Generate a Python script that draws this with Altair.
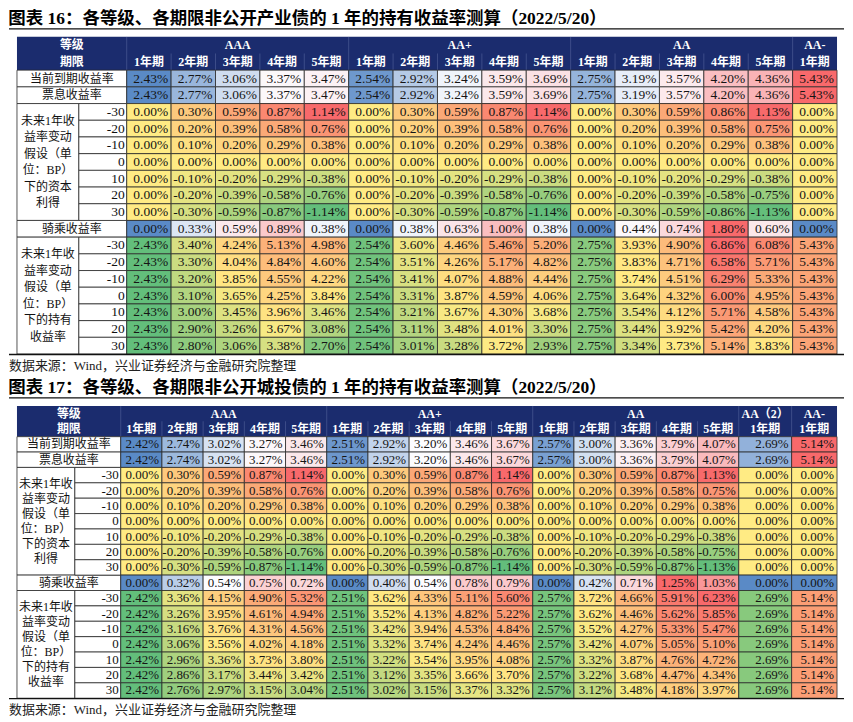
import altair as alt
import numpy as np
import pandas as pd

# ---------------- data ----------------
SHIFTS = ["-30", "-20", "-10", "0", "10", "20", "30"]
TERMS5 = ["1年期", "2年期", "3年期", "4年期", "5年期"]

# 图表16 产业债
F16_TITLE = "图表 16：各等级、各期限非公开产业债的 1 年的持有收益率测算（2022/5/20）"
F16_GRADES = ["AAA", "AA+", "AA", "AA-"]
F16_SPANS = [5, 5, 5, 1]
F16_TERMS = TERMS5 * 3 + ["1年期"]
F16_YTM = [2.43, 2.77, 3.06, 3.37, 3.47, 2.54, 2.92, 3.24, 3.59, 3.69, 2.75, 3.19, 3.57, 4.20, 4.36, 5.43]
F16_COUPON = [2.43, 2.77, 3.06, 3.37, 3.47, 2.54, 2.92, 3.24, 3.59, 3.69, 2.75, 3.19, 3.57, 4.20, 4.36, 5.43]
F16_CAPITAL = [
    [0.00, 0.30, 0.59, 0.87, 1.14, 0.00, 0.30, 0.59, 0.87, 1.14, 0.00, 0.30, 0.59, 0.86, 1.13, 0.00],
    [0.00, 0.20, 0.39, 0.58, 0.76, 0.00, 0.20, 0.39, 0.58, 0.76, 0.00, 0.20, 0.39, 0.58, 0.75, 0.00],
    [0.00, 0.10, 0.20, 0.29, 0.38, 0.00, 0.10, 0.20, 0.29, 0.38, 0.00, 0.10, 0.20, 0.29, 0.38, 0.00],
    [0.00, 0.00, 0.00, 0.00, 0.00, 0.00, 0.00, 0.00, 0.00, 0.00, 0.00, 0.00, 0.00, 0.00, 0.00, 0.00],
    [0.00, -0.10, -0.20, -0.29, -0.38, 0.00, -0.10, -0.20, -0.29, -0.38, 0.00, -0.10, -0.20, -0.29, -0.38, 0.00],
    [0.00, -0.20, -0.39, -0.58, -0.76, 0.00, -0.20, -0.39, -0.58, -0.76, 0.00, -0.20, -0.39, -0.58, -0.75, 0.00],
    [0.00, -0.30, -0.59, -0.87, -1.14, 0.00, -0.30, -0.59, -0.87, -1.14, 0.00, -0.30, -0.59, -0.86, -1.13, 0.00],
]
F16_ROLL = [0.00, 0.33, 0.59, 0.89, 0.38, 0.00, 0.38, 0.63, 1.00, 0.38, 0.00, 0.44, 0.74, 1.80, 0.60, 0.00]
F16_HOLD = [
    [2.43, 3.40, 4.24, 5.13, 4.98, 2.54, 3.60, 4.46, 5.46, 5.20, 2.75, 3.93, 4.90, 6.86, 6.08, 5.43],
    [2.43, 3.30, 4.04, 4.84, 4.60, 2.54, 3.51, 4.26, 5.17, 4.82, 2.75, 3.83, 4.71, 6.58, 5.71, 5.43],
    [2.43, 3.20, 3.85, 4.55, 4.22, 2.54, 3.41, 4.07, 4.88, 4.44, 2.75, 3.74, 4.51, 6.29, 5.33, 5.43],
    [2.43, 3.10, 3.65, 4.25, 3.84, 2.54, 3.31, 3.87, 4.59, 4.06, 2.75, 3.64, 4.32, 6.00, 4.95, 5.43],
    [2.43, 3.00, 3.45, 3.96, 3.46, 2.54, 3.21, 3.67, 4.30, 3.68, 2.75, 3.54, 4.12, 5.71, 4.58, 5.43],
    [2.43, 2.90, 3.26, 3.67, 3.08, 2.54, 3.11, 3.48, 4.01, 3.30, 2.75, 3.44, 3.92, 5.42, 4.20, 5.43],
    [2.43, 2.80, 3.06, 3.38, 2.70, 2.54, 3.01, 3.28, 3.72, 2.93, 2.75, 3.34, 3.73, 5.14, 3.83, 5.43],
]

# 图表17 城投债
F17_TITLE = "图表 17：各等级、各期限非公开城投债的 1 年的持有收益率测算（2022/5/20）"
F17_GRADES = ["AAA", "AA+", "AA", "AA（2）", "AA-"]
F17_SPANS = [5, 5, 5, 1, 1]
F17_TERMS = TERMS5 * 3 + ["1年期", "1年期"]
F17_YTM = [2.42, 2.74, 3.02, 3.27, 3.46, 2.51, 2.92, 3.20, 3.46, 3.67, 2.57, 3.00, 3.36, 3.79, 4.07, 2.69, 5.14]
F17_COUPON = [2.42, 2.74, 3.02, 3.27, 3.46, 2.51, 2.92, 3.20, 3.46, 3.67, 2.57, 3.00, 3.36, 3.79, 4.07, 2.69, 5.14]
F17_CAPITAL = [
    [0.00, 0.30, 0.59, 0.87, 1.14, 0.00, 0.30, 0.59, 0.87, 1.14, 0.00, 0.30, 0.59, 0.87, 1.13, 0.00, 0.00],
    [0.00, 0.20, 0.39, 0.58, 0.76, 0.00, 0.20, 0.39, 0.58, 0.76, 0.00, 0.20, 0.39, 0.58, 0.75, 0.00, 0.00],
    [0.00, 0.10, 0.20, 0.29, 0.38, 0.00, 0.10, 0.20, 0.29, 0.38, 0.00, 0.10, 0.20, 0.29, 0.38, 0.00, 0.00],
    [0.00, 0.00, 0.00, 0.00, 0.00, 0.00, 0.00, 0.00, 0.00, 0.00, 0.00, 0.00, 0.00, 0.00, 0.00, 0.00, 0.00],
    [0.00, -0.10, -0.20, -0.29, -0.38, 0.00, -0.10, -0.20, -0.29, -0.38, 0.00, -0.10, -0.20, -0.29, -0.38, 0.00, 0.00],
    [0.00, -0.20, -0.39, -0.58, -0.76, 0.00, -0.20, -0.39, -0.58, -0.76, 0.00, -0.20, -0.39, -0.58, -0.75, 0.00, 0.00],
    [0.00, -0.30, -0.59, -0.87, -1.14, 0.00, -0.30, -0.59, -0.87, -1.14, 0.00, -0.30, -0.59, -0.87, -1.13, 0.00, 0.00],
]
F17_ROLL = [0.00, 0.32, 0.54, 0.75, 0.72, 0.00, 0.40, 0.54, 0.78, 0.79, 0.00, 0.42, 0.71, 1.25, 1.03, 0.00, 0.00]
F17_HOLD = [
    [2.42, 3.36, 4.15, 4.90, 5.32, 2.51, 3.62, 4.33, 5.11, 5.60, 2.57, 3.72, 4.66, 5.91, 6.23, 2.69, 5.14],
    [2.42, 3.26, 3.95, 4.61, 4.94, 2.51, 3.52, 4.13, 4.82, 5.22, 2.57, 3.62, 4.46, 5.62, 5.85, 2.69, 5.14],
    [2.42, 3.16, 3.76, 4.31, 4.56, 2.51, 3.42, 3.94, 4.53, 4.84, 2.57, 3.52, 4.27, 5.33, 5.47, 2.69, 5.14],
    [2.42, 3.06, 3.56, 4.02, 4.18, 2.51, 3.32, 3.74, 4.24, 4.46, 2.57, 3.42, 4.07, 5.05, 5.10, 2.69, 5.14],
    [2.42, 2.96, 3.36, 3.73, 3.80, 2.51, 3.22, 3.54, 3.95, 4.08, 2.57, 3.32, 3.87, 4.76, 4.72, 2.69, 5.14],
    [2.42, 2.86, 3.17, 3.44, 3.42, 2.51, 3.12, 3.35, 3.66, 3.70, 2.57, 3.22, 3.68, 4.47, 4.34, 2.69, 5.14],
    [2.42, 2.76, 2.97, 3.15, 3.04, 2.51, 3.02, 3.15, 3.37, 3.32, 2.57, 3.12, 3.48, 4.18, 3.97, 2.69, 5.14],
]

SOURCE = "数据来源：Wind，兴业证券经济与金融研究院整理"
LBL_HEAD = ["等级", "期限"]
LBL_YTM = "当前到期收益率"
LBL_COUPON = "票息收益率"
LBL_ROLL = "骑乘收益率"
LBL_CAP = ["未来1年收", "益率变动", "假设（单", "位：BP）", "下的资本", "利得"]
LBL_HOLD = ["未来1年收", "益率变动", "假设（单", "位：BP）", "下的持有", "收益率"]

# ---------------- styling ----------------
NAVY = "#1b2c6e"
BORDER = "#2a2a2a"
SERIF = "Liberation Serif"
MIXED = "Liberation Serif, Noto Sans CJK SC"
GYR = ["#63BE7B", "#FFEB84", "#F8696B"]
BWR = ["#5A8AC6", "#FCFCFF", "#F8696B"]


def table_chart(title, grades, spans, terms, ytm, coupon, capital, roll, hold,
                widths, H, fs, lh):
    edges = np.concatenate([[0.0], np.cumsum(widths)])
    W = float(edges[-1])
    L1 = float(edges[1])
    L = float(edges[2])
    NR = 19
    row_h = H / NR
    xsc = alt.Scale(domain=[0, W], nice=False, zero=False)
    ysc = alt.Scale(domain=[0, NR], nice=False, zero=False, reverse=True)

    def rect_enc():
        return dict(x=alt.X("x0:Q", scale=xsc, axis=None), x2="x1:Q",
                    y=alt.Y("y0:Q", scale=ysc, axis=None), y2="y1:Q")

    # data cells
    rows = [(ytm, 2, "ytm"), (coupon, 3, "coupon")]
    rows += [(capital[i], 4 + i, "cap") for i in range(7)]
    rows.append((roll, 11, "roll"))
    rows += [(hold[i], 12 + i, "hold") for i in range(7)]
    recs = []
    for vals, r, blk in rows:
        for c, v in enumerate(vals):
            recs.append(dict(x0=edges[2 + c], x1=edges[3 + c], y0=r, y1=r + 1, yc=r + 0.5,
                             v=v, txt=f"{v:.2f}%", block=blk))
    cells = pd.DataFrame(recs)

    layers = []
    # header band
    head = pd.DataFrame([dict(x0=0.0, x1=W, y0=0, y1=2)])
    layers.append(alt.Chart(head).mark_rect(color=NAVY).encode(**rect_enc()))
    # header faint separators
    seps = []
    gstart = [2 + int(s) for s in np.concatenate([[0], np.cumsum(spans)[:-1]])]
    for g in gstart:
        seps.append(dict(x=edges[g], y0=0, y1=2))
    for c in range(len(terms)):
        if (2 + c) not in gstart:
            seps.append(dict(x=edges[2 + c], y0=1, y1=2))
    layers.append(alt.Chart(pd.DataFrame(seps)).mark_rule(color="#8c99c8", strokeWidth=0.6, opacity=0.5)
                  .encode(x=alt.X("x:Q", scale=xsc, axis=None),
                          y=alt.Y("y0:Q", scale=ysc, axis=None), y2="y1:Q"))

    # label cells
    lrec = [dict(x0=0, x1=L, y0=2, y1=3), dict(x0=0, x1=L, y0=3, y1=4),
            dict(x0=0, x1=L1, y0=4, y1=11), dict(x0=0, x1=L, y0=11, y1=12),
            dict(x0=0, x1=L1, y0=12, y1=19)]
    for i in range(7):
        lrec.append(dict(x0=L1, x1=L, y0=4 + i, y1=5 + i))
        lrec.append(dict(x0=L1, x1=L, y0=12 + i, y1=13 + i))
    layers.append(alt.Chart(pd.DataFrame(lrec)).mark_rect(fill="white", stroke=BORDER, strokeWidth=0.8)
                  .encode(**rect_enc()))

    # coloured data cells, one colour scale per block
    for blk, rng in [("ytm", BWR), ("coupon", BWR), ("cap", GYR), ("roll", BWR), ("hold", GYR)]:
        vals = cells.loc[cells.block == blk, "v"].to_numpy()
        dom = [float(vals.min()), float(np.median(vals)), float(vals.max())]
        layers.append(
            alt.Chart(cells).transform_filter(alt.datum.block == blk)
            .mark_rect(stroke=BORDER, strokeWidth=0.8)
            .encode(**rect_enc(),
                    color=alt.Color("v:Q", scale=alt.Scale(domain=dom, range=rng, interpolate="rgb"),
                                    legend=None)))

    # data text
    layers.append(alt.Chart(cells).mark_text(align="right", baseline="middle", dx=-3, font=SERIF,
                                            fontSize=fs, color="#151515")
                  .encode(x=alt.X("x1:Q", scale=xsc, axis=None),
                          y=alt.Y("yc:Q", scale=ysc, axis=None), text="txt:N"))

    # header text
    htx = [dict(x=L / 2, y=0.5, t=LBL_HEAD[0]), dict(x=L / 2, y=1.5, t=LBL_HEAD[1])]
    for g, s, name in zip(gstart, spans, grades):
        htx.append(dict(x=(edges[g] + edges[g + s]) / 2, y=0.5, t=name))
    for c, t in enumerate(terms):
        htx.append(dict(x=(edges[2 + c] + edges[3 + c]) / 2, y=1.5, t=t))
    layers.append(alt.Chart(pd.DataFrame(htx)).mark_text(align="center", baseline="middle", font=MIXED,
                                                        fontSize=12, fontWeight="bold", color="white")
                  .encode(x=alt.X("x:Q", scale=xsc, axis=None),
                          y=alt.Y("y:Q", scale=ysc, axis=None), text="t:N"))

    # row labels
    ltx = [dict(x=L / 2, y=2.5, t=LBL_YTM), dict(x=L / 2, y=3.5, t=LBL_COUPON),
           dict(x=L / 2, y=11.5, t=LBL_ROLL)]
    layers.append(alt.Chart(pd.DataFrame(ltx)).mark_text(align="center", baseline="middle", font=MIXED,
                                                        fontSize=12, color="#111")
                  .encode(x=alt.X("x:Q", scale=xsc, axis=None),
                          y=alt.Y("y:Q", scale=ysc, axis=None), text="t:N"))
    for lines, yc in [(LBL_CAP, 7.5), (LBL_HOLD, 15.5)]:
        # multi-line text flows downward from the anchor: start at the first line
        y_first = yc - (len(lines) - 1) / 2 * (lh / row_h)
        layers.append(alt.Chart(pd.DataFrame([dict(x=L1 / 2, y=y_first)]))
                      .mark_text(align="center", baseline="middle", font=MIXED, fontSize=12,
                                 lineHeight=lh, color="#111")
                      .encode(x=alt.X("x:Q", scale=xsc, axis=None),
                              y=alt.Y("y:Q", scale=ysc, axis=None), text=alt.value(lines)))
    stx = []
    for i, s in enumerate(SHIFTS):
        stx.append(dict(x=L, y=4.5 + i, t=s))
        stx.append(dict(x=L, y=12.5 + i, t=s))
    layers.append(alt.Chart(pd.DataFrame(stx)).mark_text(align="right", baseline="middle", dx=-2,
                                                        font=SERIF, fontSize=fs, color="#111")
                  .encode(x=alt.X("x:Q", scale=xsc, axis=None),
                          y=alt.Y("y:Q", scale=ysc, axis=None), text="t:N"))

    one = pd.DataFrame({"k": [0]})
    # rule under the title
    layers.append(alt.Chart(one).mark_rule(color="#111", strokeWidth=1.3)
                  .encode(x=alt.value(-8), x2=alt.value(W + 7), y=alt.value(-8)))
    # rule under the table
    layers.append(alt.Chart(one).mark_rule(color="#111", strokeWidth=1.3)
                  .encode(x=alt.value(-8), x2=alt.value(W + 7), y=alt.value(H + 0.5)))
    # source note
    layers.append(alt.Chart(one).mark_text(align="left", baseline="middle", font=MIXED, fontSize=13,
                                          color="#222")
                  .encode(x=alt.value(-8), y=alt.value(H + 12), text=alt.value(SOURCE)))

    return alt.layer(*layers).resolve_scale(color="independent").properties(
        width=W, height=H,
        title=alt.TitleParams(text=title, anchor="start", frame="bounds", offset=1, font=MIXED,
                              fontSize=17.5, fontWeight="bold", color="#000"))


c16 = table_chart(F16_TITLE, F16_GRADES, F16_SPANS, F16_TERMS, F16_YTM, F16_COUPON, F16_CAPITAL,
                  F16_ROLL, F16_HOLD, [62, 48] + [44.5] * 16, 318, 13.5, 16.6)
c17 = table_chart(F17_TITLE, F17_GRADES, F17_SPANS, F17_TERMS, F17_YTM, F17_COUPON, F17_CAPITAL,
                  F17_ROLL, F17_HOLD, [58, 46] + [41.3] * 15 + [53, 45.5], 293, 13, 15.0)

chart = alt.vconcat(c16, c17, spacing=5).properties(padding=0, background="white").configure_view(stroke=None)
chart.save("out.html", embed_options={"renderer": "svg", "actions": False})
